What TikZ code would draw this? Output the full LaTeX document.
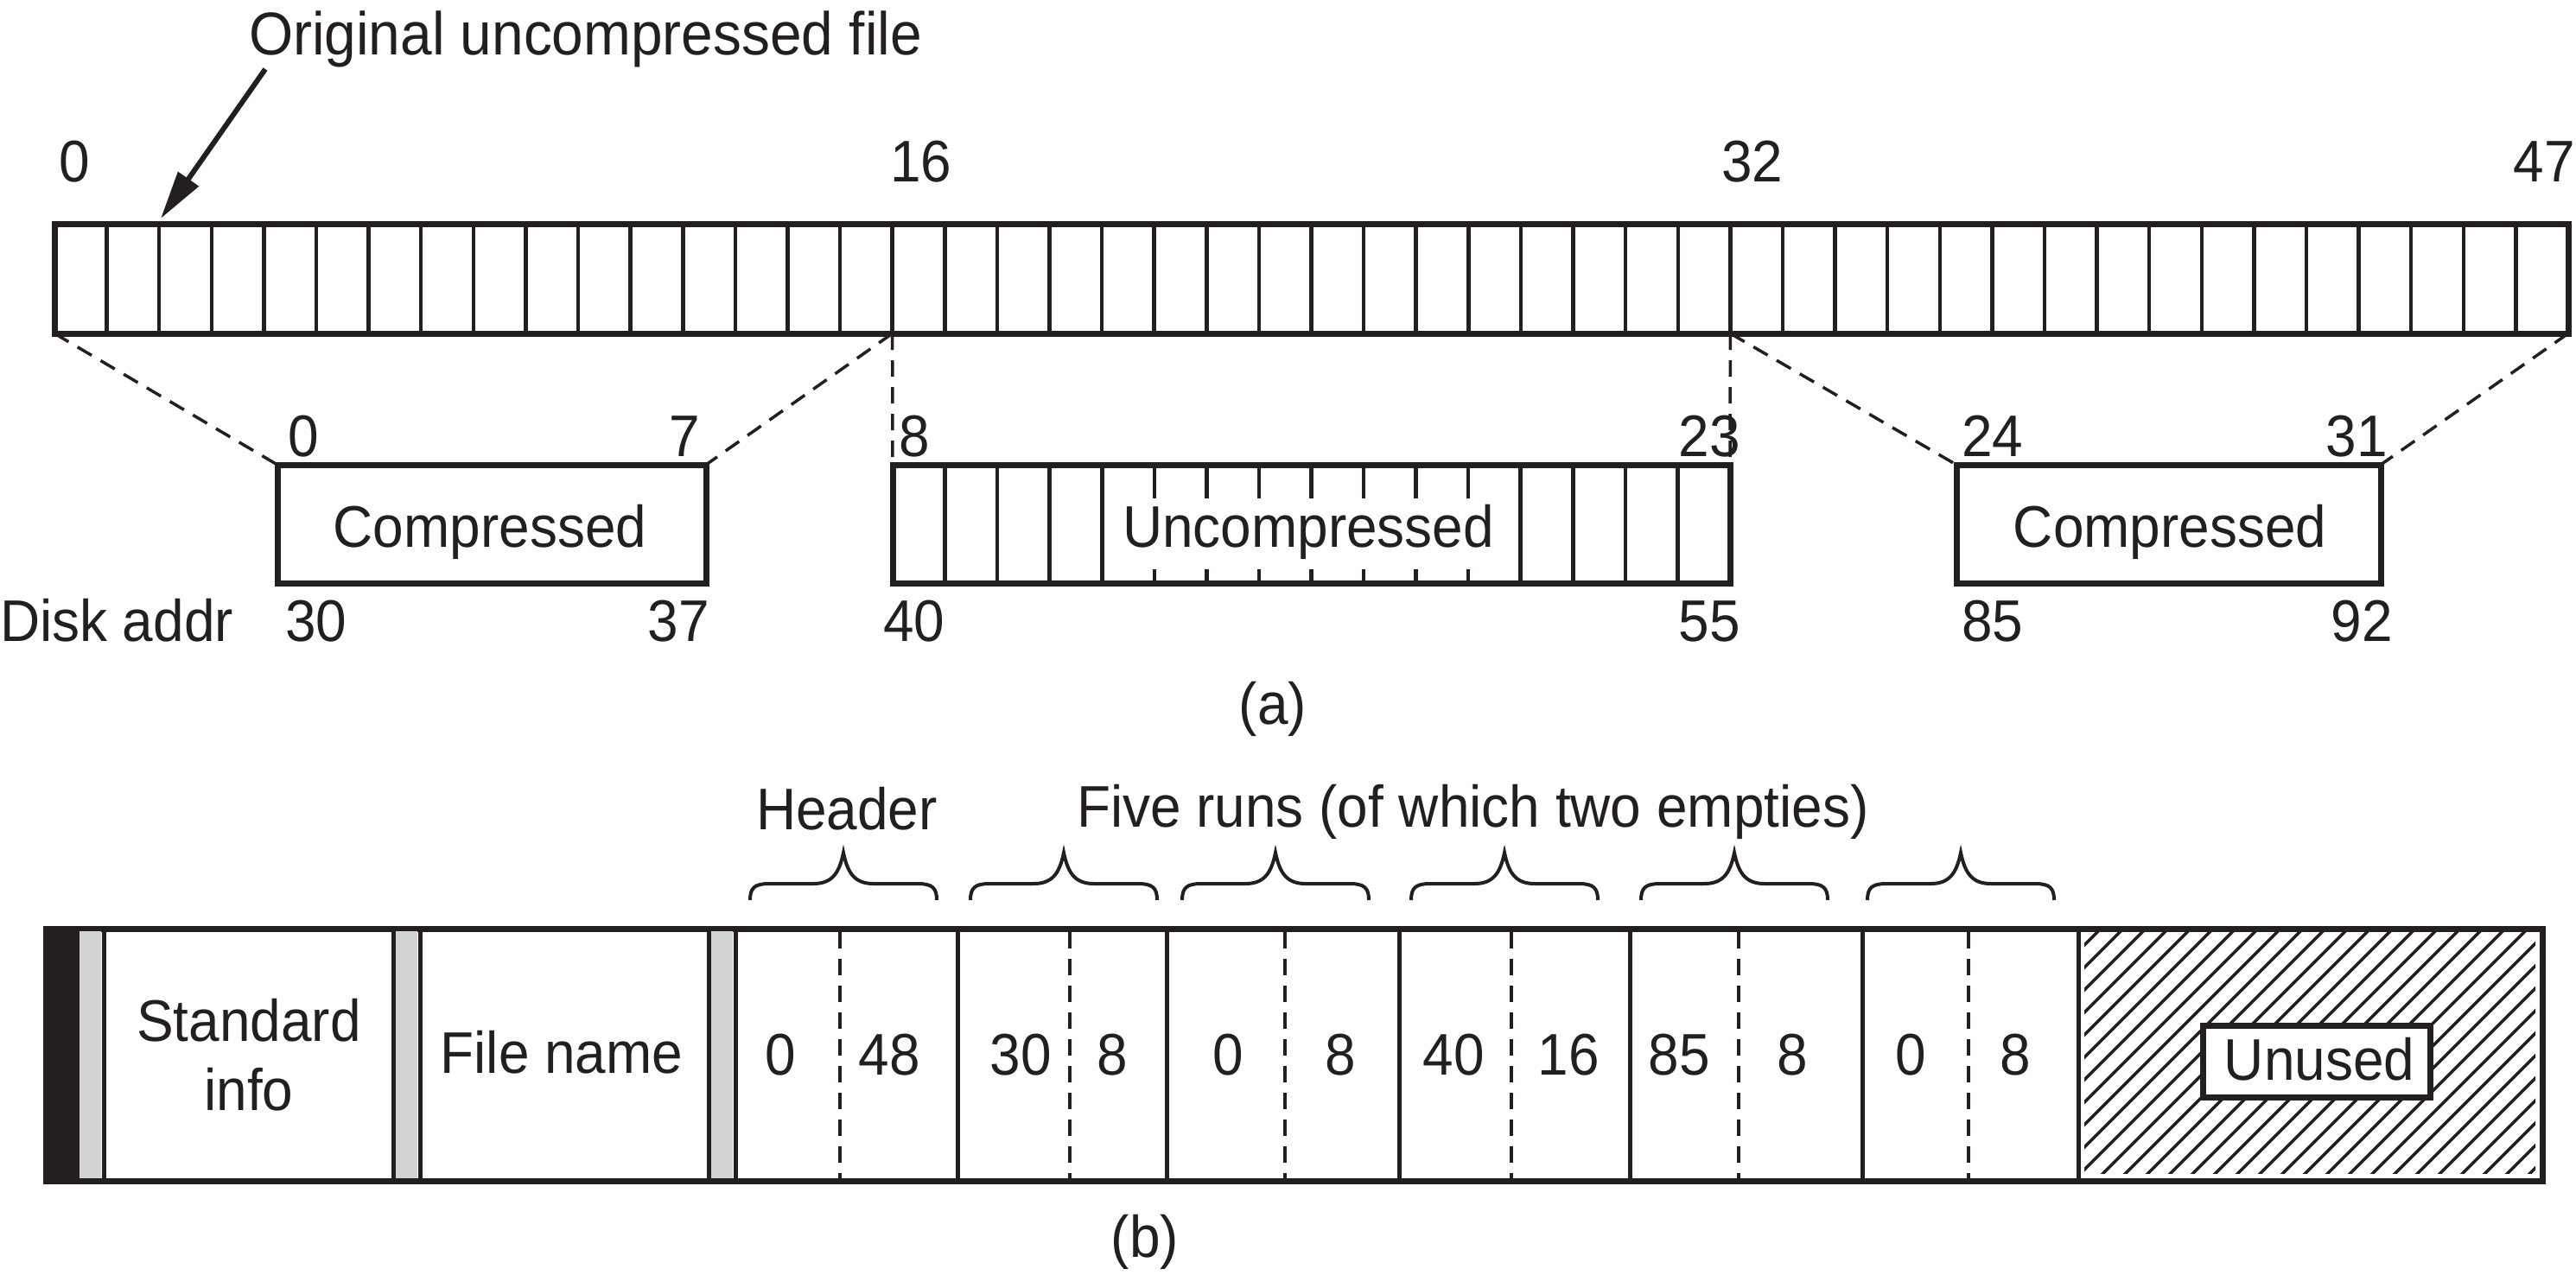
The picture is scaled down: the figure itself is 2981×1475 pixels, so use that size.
\documentclass[tikz,border=0pt]{standalone}
\usepackage{fontspec}
\setmainfont[FakeStretch=0.94]{Liberation Sans}
\usetikzlibrary{arrows.meta,calc}
\definecolor{ink}{RGB}{35,31,32}
\definecolor{lgray}{RGB}{209,211,212}
\newcommand\runbrace[1]{%
  \draw[bracel] ({#1-108},1042) .. controls ({#1-108},1028) and ({#1-103},1023) .. ({#1-86},1023)
    -- ({#1-35},1023) .. controls ({#1-14},1023) and ({#1-5},1012) .. (#1,987)
    .. controls ({#1+5},1012) and ({#1+14},1023) .. ({#1+35},1023)
    -- ({#1+86},1023) .. controls ({#1+103},1023) and ({#1+108},1028) .. ({#1+108},1042);}
\tikzset{
  txt/.style={font=\fontsize{68}{80}\selectfont, inner sep=0pt, outer sep=0pt, text=ink},
  outerl/.style={line width=7pt, draw=ink},
  innerl/.style={line width=4.5pt, draw=ink},
  solidl/.style={line width=5pt, draw=ink},
  dashl/.style={line width=3.5pt, draw=ink, dash pattern=on 19pt off 12pt},
  bracel/.style={line width=4pt, draw=ink},
  boxst/.style={outerl, fill=white, inner sep=0pt, outer sep=0pt, anchor=north west},
}
\begin{document}
\begin{tikzpicture}[x=1pt,y=-1pt]
\useasboundingbox (0,0) rectangle (2981,1475);
\def\cw{60.604}
% ---------- (a) ----------
\node[txt, anchor=base west] (title) at (288,63) {\fontsize{70}{80}\selectfont Original uncompressed file};
\coordinate (arrS) at (307,80);
\coordinate (arrE) at (186,253);
\node[txt, anchor=base west] (t0) at (68,210) {0};
\node[txt, anchor=base west] (t16) at (1030,210) {16};
\node[txt, anchor=base west] (t32) at (1992,210) {32};
\node[txt, anchor=base east] (t47) at (2980,210) {47};
% original bar
\node[outerl, inner sep=0pt, outer sep=0pt, anchor=north west, minimum width=2909pt, minimum height=127pt] (bar) at (63,259) {};
\foreach \i in {1,...,47} \draw[innerl] ({63+\i*\cw},259) -- ({63+\i*\cw},386);
\coordinate (b16) at ({63+16*\cw},386);
\coordinate (b32) at ({63+32*\cw},386);
\draw[line width=6pt, draw=ink, -{Triangle[length=56pt,width=28pt]}, ink] (arrS) -- (arrE);
% boxes
\node[boxst, minimum width=496pt, minimum height=137pt] (c1) at (321,538) {};
\node[boxst, minimum width=969pt, minimum height=137pt] (u) at (1033,538) {};
\node[boxst, minimum width=491pt, minimum height=137pt] (c3) at (2264,538) {};
\foreach \i in {1,...,4,12,13,14,15} \draw[innerl] ({1033+\i*60.56},538) -- ({1033+\i*60.56},675);
\foreach \i in {5,...,11} {
  \draw[innerl] ({1033+\i*60.56},538) -- ({1033+\i*60.56},577);
  \draw[innerl] ({1033+\i*60.56},659) -- ({1033+\i*60.56},675);
}
\draw[outerl, fill=none] (1033,538) rectangle (2002,675);
\node[txt, anchor=base] (lc1) at (567,633) {Compressed};
\node[txt, anchor=base] (lu) at (1514,633) {Uncompressed};
\node[txt, anchor=base] (lc3) at (2511,633) {Compressed};
% dashed connectors
\draw[dashl] (bar.south west) -- (c1.north west);
\draw[dashl] (b16) -- (c1.north east);
\draw[dashl] (b16) -- (u.north west);
\draw[dashl] (b32) -- (u.north east);
\draw[dashl] (b32) -- (c3.north west);
\draw[dashl] (bar.south east) -- (c3.north east);
% labels
\node[txt, anchor=base west] (n0) at (333,528) {0};
\node[txt, anchor=base east] (n7) at (810,528) {7};
\node[txt, anchor=base west] (n8) at (1040,528) {8};
\node[txt, anchor=base east] (n23) at (2014,528) {23};
\node[txt, anchor=base west] (n24) at (2270,528) {24};
\node[txt, anchor=base east] (n31) at (2763,528) {31};
\node[txt, anchor=base west] (disk) at (0,742) {Disk addr};
\node[txt, anchor=base west] (d30) at (330,742) {30};
\node[txt, anchor=base east] (d37) at (821,742) {37};
\node[txt, anchor=base west] (d40) at (1022,742) {40};
\node[txt, anchor=base east] (d55) at (2014,742) {55};
\node[txt, anchor=base west] (d85) at (2270,742) {85};
\node[txt, anchor=base east] (d92) at (2769,742) {92};
\node[txt, anchor=base] (capa) at (1473,838) {(a)};
% ---------- (b) ----------
\node[txt, anchor=base] (hdr) at (980,960) {Header};
\node[txt, anchor=base west] (five) at (1246,957) {Five runs (of which two empties)};
\runbrace{976}
\runbrace{1231}
\runbrace{1476}
\runbrace{1741}
\runbrace{2007}
\runbrace{2269}
% record
\node[outerl, fill=white, inner sep=0pt, outer sep=0pt, anchor=north west, minimum width=2889pt, minimum height=292pt] (rec) at (53,1075) {};
\fill[ink] (49.5,1071.5) rectangle (92,1370.5);
\fill[lgray] (92,1078) rectangle (117,1364);
\draw[solidl] (120,1078) -- (120,1364);
\draw[solidl] (455,1078) -- (455,1364);
\fill[lgray] (458,1078) rectangle (483,1364);
\draw[solidl] (486,1078) -- (486,1364);
\draw[solidl] (820,1078) -- (820,1364);
\fill[lgray] (823,1078) rectangle (848,1364);
\draw[solidl] (851,1078) -- (851,1364);
\foreach \x in {1108,1350,1619,1886,2155,2405} \draw[solidl] (\x,1078) -- (\x,1364);
\foreach \x in {972,1238,1487,1749,2012,2278} \draw[dashl] (\x,1079) -- (\x,1364);
% hatch
\begin{scope}
  \clip (2412,1078.5) rectangle (2934,1358);
  \foreach \k in {0,...,33} \draw[line width=3.5pt, ink] ({2100+\k*26},1380) -- ++(330,-330);
\end{scope}
\node[boxst, minimum width=263pt, minimum height=83pt] (unbox) at (2549,1187) {};
\node[txt, anchor=base] (unused) at (2684,1250) {Unused};
\node[txt, anchor=base, align=center] (std) at (288,1285) {Standard\\info};
\node[txt, anchor=base] (fname) at (650,1242) {File name};
\node[txt, anchor=base] (v1) at (903,1244) {0};
\node[txt, anchor=base] (v2) at (1029,1244) {48};
\node[txt, anchor=base] (v3) at (1181,1244) {30};
\node[txt, anchor=base] (v4) at (1287,1244) {8};
\node[txt, anchor=base] (v5) at (1421,1244) {0};
\node[txt, anchor=base] (v6) at (1551,1244) {8};
\node[txt, anchor=base] (v7) at (1682,1244) {40};
\node[txt, anchor=base] (v8) at (1815,1244) {16};
\node[txt, anchor=base] (v9) at (1943,1244) {85};
\node[txt, anchor=base] (v10) at (2074,1244) {8};
\node[txt, anchor=base] (v11) at (2211,1244) {0};
\node[txt, anchor=base] (v12) at (2332,1244) {8};
\node[txt, anchor=base] (capb) at (1325,1455) {(b)};
\end{tikzpicture}
\end{document}
